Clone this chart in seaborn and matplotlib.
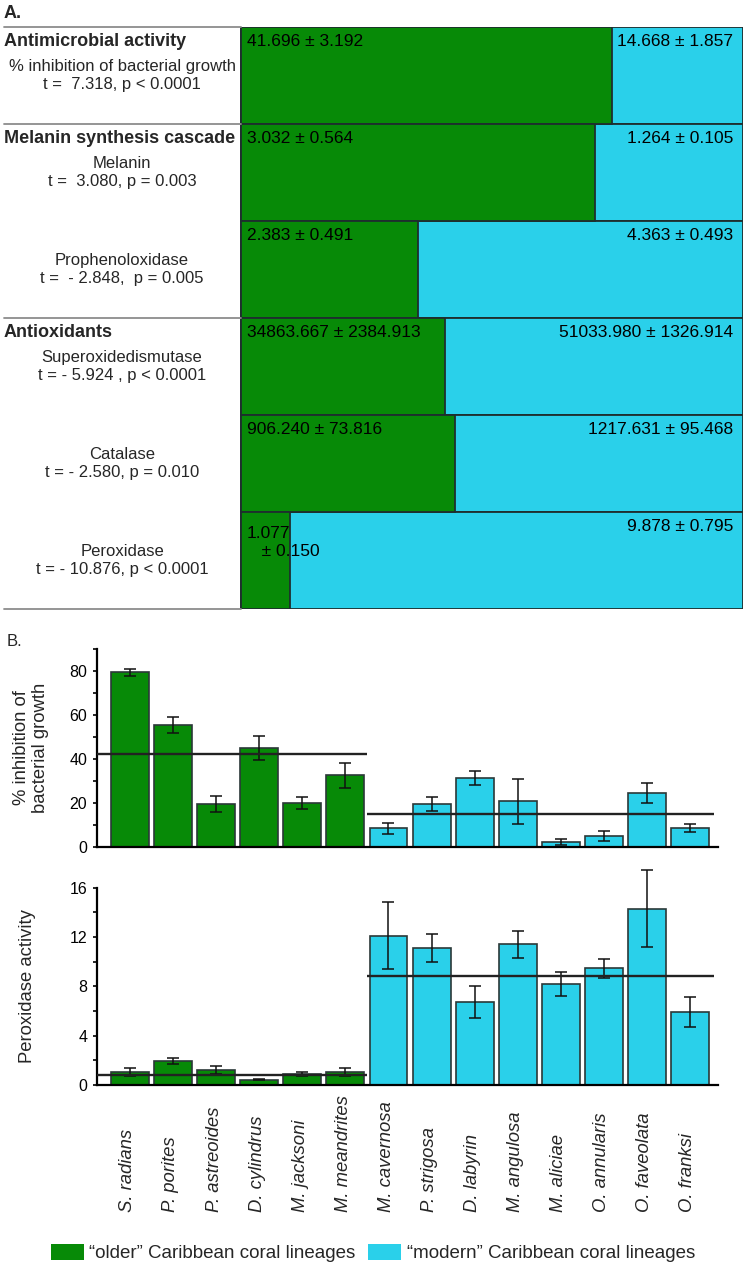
import matplotlib
matplotlib.use("Agg")
import matplotlib.pyplot as plt
import matplotlib.transforms as mtransforms
from matplotlib.patches import Patch
import seaborn as sns
import pandas as pd

# ---------------- data ----------------
# Panel A: group means (older vs modern lineages)
a_rows = ["Antimicrobial", "Melanin", "Prophenoloxidase",
          "Superoxidedismutase", "Catalase", "Peroxidase"]
a_older = [41.696, 3.032, 2.383, 34863.667, 906.240, 1.077]
a_modern = [14.668, 1.264, 4.363, 51033.980, 1217.631, 9.878]
a_older_lbl = ["41.696 ± 3.192", "3.032 ± 0.564", "2.383 ± 0.491",
               "34863.667 ± 2384.913", "906.240 ± 73.816", "1.077\n   ± 0.150"]
a_modern_lbl = ["14.668 ± 1.857", "1.264 ± 0.105", "4.363 ± 0.493",
                "51033.980 ± 1326.914", "1217.631 ± 95.468", "9.878 ± 0.795"]
a_row_desc = ["% inhibition of bacterial growth\nt =  7.318, p < 0.0001",
              "Melanin\nt =  3.080, p = 0.003",
              "Prophenoloxidase\nt =  - 2.848,  p = 0.005",
              "Superoxidedismutase\nt = - 5.924 , p < 0.0001",
              "Catalase\nt = - 2.580, p = 0.010",
              "Peroxidase\nt = - 10.876, p < 0.0001"]
a_group_heads = ["Antimicrobial activity", "Melanin synthesis cascade", "Antioxidants"]
a_group_start = [0, 1, 3]

# Panel B: per-species means and standard errors
species = ["S. radians", "P. porites", "P. astreoides", "D. cylindrus",
           "M. jacksoni", "M. meandrites", "M. cavernosa", "P. strigosa",
           "D. labyrin", "M. angulosa", "M. aliciae", "O. annularis",
           "O. faveolata", "O. franksi"]
lineage = ["older"] * 6 + ["modern"] * 8
inhib_mean = [79.4, 55.3, 19.4, 44.9, 20.0, 32.6, 8.5, 19.6, 31.4, 20.8, 2.3, 4.9, 24.6, 8.6]
inhib_se = [1.7, 3.7, 3.7, 5.5, 2.7, 5.8, 2.5, 3.1, 3.0, 10.2, 1.2, 2.2, 4.5, 1.7]
perox_mean = [1.08, 1.95, 1.22, 0.43, 0.86, 1.07, 12.1, 11.1, 6.7, 11.4, 8.2, 9.45, 14.3, 5.9]
perox_se = [0.33, 0.27, 0.35, 0.04, 0.17, 0.33, 2.7, 1.15, 1.3, 1.07, 0.95, 0.78, 3.1, 1.2]
inhib_group_mean = [42.2, 15.2]
perox_group_mean = [0.8, 8.8]
legend_labels = ["\u201colder\u201d Caribbean coral lineages",
                 "\u201cmodern\u201d Caribbean coral lineages"]

# ---------------- style ----------------
GREEN = "#078A07"
CYAN = "#2AD0EA"
EDGE = "#1E2E2E"
sns.set_style("white")
plt.rcParams["font.family"] = ["Liberation Sans", "DejaVu Sans"]
plt.rcParams["axes.linewidth"] = 1.5

W, H = 748, 1268
fig = plt.figure(figsize=(W / 100, H / 100), dpi=100)


def fx(px):
    return px / W


def fy(py):
    return 1 - py / H


# ---------------- Panel A ----------------
barL, barR = 241, 743
tabL, tabT, tabB = 4, 27, 609
axA = fig.add_axes([fx(tabL), fy(tabB), fx(barR - tabL), (tabB - tabT) / H])
L = (barL - tabL) / (barR - barL)

dfA = pd.DataFrame({"row": a_rows, "older": a_older, "modern": a_modern})
dfA["total"] = 1.0
dfA["older_share"] = dfA["older"] / (dfA["older"] + dfA["modern"])
sns.barplot(data=dfA, x="total", y="row", orient="h", color=CYAN, width=1.0,
            edgecolor=EDGE, linewidth=1.3, saturation=1, ax=axA)
sns.barplot(data=dfA, x="older_share", y="row", orient="h", color=GREEN, width=1.0,
            edgecolor=EDGE, linewidth=1.3, saturation=1, ax=axA)
axA.set_xlim(-L, 1.0)
axA.set_ylim(len(a_rows) - 0.5, -0.5)
axA.axis("off")

def pxA(px):
    return (px - barL) / (barR - barL)

# gray separators on the left part
for yb in [-0.5] + [s - 0.5 for s in a_group_start[1:]] + [len(a_rows) - 0.5]:
    axA.plot([-L, 0], [yb, yb], color="#8C8C8C", lw=1.3, clip_on=False, zorder=5)

row_h = (tabB - tabT) / len(a_rows)
off = 14.5 / row_h
for i in range(len(a_rows)):
    axA.text(pxA(247), i - 0.5 + off, a_older_lbl[i], ha="left", va="top" if "\n" in a_older_lbl[i] else "center",
             fontsize=12.5, color="black", zorder=6, linespacing=1.2)
    axA.text(pxA(733), i - 0.5 + off, a_modern_lbl[i], ha="right", va="center",
             fontsize=12.5, color="black", zorder=6)
    axA.text(pxA(122), i, a_row_desc[i], ha="center", va="center", fontsize=12,
             multialignment="center", linespacing=1.2)
for g, s in zip(a_group_heads, a_group_start):
    axA.text(pxA(4), s - 0.5 + off, g, ha="left", va="center", fontsize=13,
             fontweight="bold")

fig.text(fx(4), fy(13), "A.", ha="left", va="center", fontsize=13, fontweight="bold")

# ---------------- Panel B ----------------
dfB = pd.DataFrame({"species": species, "lineage": lineage,
                    "inhib": inhib_mean, "inhib_se": inhib_se,
                    "perox": perox_mean, "perox_se": perox_se})
pal = {"older": GREEN, "modern": CYAN}

axL, axRgt = 97, 718
pitch = 43.08
x0c = 130
xlo = (axL - x0c) / pitch
xhi = (axRgt - x0c) / pitch

ax1 = fig.add_axes([fx(axL), fy(847), fx(axRgt - axL), (847 - 649) / H])
ax2 = fig.add_axes([fx(axL), fy(1085), fx(axRgt - axL), (1085 - 887.7) / H])

panels = [(ax1, "inhib", "inhib_se", inhib_group_mean, (0, 90), 20, 10,
           "% inhibition of\nbacterial growth"),
          (ax2, "perox", "perox_se", perox_group_mean, (0, 16), 4, 2,
           "Peroxidase activity")]
n_old = lineage.count("older")
for ax, col, secol, gm, ylim, maj, mnr, ylab in panels:
    sns.barplot(data=dfB, x="species", y=col, hue="lineage", palette=pal,
                order=species, dodge=False, width=0.88, errorbar=None,
                edgecolor="#2B3838", linewidth=1.2, saturation=1, legend=False, ax=ax)
    eb = ax.errorbar(range(len(species)), dfB[col], yerr=dfB[secol], fmt="none",
                     ecolor="#111111", elinewidth=1.1, capsize=4, capthick=1.1, zorder=4)
    for art in list(eb.lines[1]) + list(eb.lines[2]):
        art.set_clip_on(False)
    ax.hlines(gm[0], xlo, n_old - 0.5, color="#222222", lw=1.7, zorder=5, clip_on=False)
    ax.hlines(gm[1], n_old - 0.5, xhi - 0.09, color="#222222", lw=1.7, zorder=5, clip_on=False)
    ax.set_xlim(xlo, xhi)
    ax.set_ylim(*ylim)
    ax.set_yticks(range(ylim[0], ylim[1] + 1, maj))
    ax.set_yticks(range(ylim[0], ylim[1] + 1, mnr), minor=True)
    ax.tick_params(axis="y", which="both", direction="out", length=3, width=1.2,
                   left=True, labelsize=11.5, pad=4, colors="black")
    ax.tick_params(axis="x", bottom=False, labelbottom=False)
    ax.set_xlabel("")
    ax.set_ylabel(ylab, fontsize=13.3, multialignment="center", linespacing=1.15,
                  va="center", ha="center")
    for side in ["top", "right"]:
        ax.spines[side].set_visible(False)
    for side in ["left", "bottom"]:
        ax.spines[side].set_color("black")
        ax.spines[side].set_linewidth(1.6)

ax1.yaxis.set_label_coords((31 - axL) / (axRgt - axL), 0.5)
ax2.yaxis.set_label_coords((28 - axL) / (axRgt - axL), 0.5)

# species labels (rotated, bottom aligned)
tr = mtransforms.blended_transform_factory(ax2.transData, fig.transFigure)
for i, sp in enumerate(species):
    ax2.text(i - 0.05, fy(1212), sp, rotation=90, ha="center", va="bottom",
             fontsize=13.3, fontstyle="italic", transform=tr, clip_on=False)

fig.text(fx(7), fy(642), "B.", ha="left", va="center", fontsize=12)

handles = [Patch(facecolor=GREEN, edgecolor="none"), Patch(facecolor=CYAN, edgecolor="none")]
fig.legend(handles, legend_labels, loc="center", bbox_to_anchor=(fx(373), fy(1253)),
           ncol=2, frameon=False, fontsize=13.5, handlelength=1.76, handleheight=1.0,
           handletextpad=0.27, columnspacing=0.69, borderpad=0, borderaxespad=0)

fig.savefig("out.png", dpi=100)
